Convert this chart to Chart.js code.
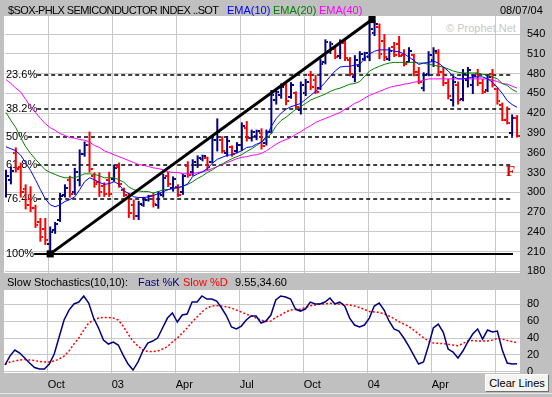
<!DOCTYPE html>
<html>
<head>
<meta charset="utf-8">
<script src="https://cdn.jsdelivr.net/npm/chart.js"></script>
<style>
  body { margin: 0; background: #c0c0c0; }
  #wrap { position: relative; width: 552px; height: 397px; background: #c0c0c0; overflow: hidden;
          font-family: "Liberation Sans", Arial, sans-serif; font-size: 11px; line-height: 16px; color: #000; }
  .abs { position: absolute; white-space: nowrap; }
  .plot { position: absolute; background: #fff; }
  canvas { position: absolute; left: 0; }
</style>
</head>
<body>
<div id="wrap">
  <div class="plot" style="left:4px;top:16px;width:516px;height:257px"></div>
  <div class="plot" style="left:4px;top:290px;width:516px;height:83px"></div>
  <div class="abs" style="left:446px;top:20px;color:#c8c8c8">© Prophet.Net</div>

  <canvas id="mainChart" width="552" height="290" style="top:0"></canvas>
  <canvas id="stochChart" width="552" height="123" style="top:274px"></canvas>

  <div class="abs" style="left:8px;top:2px;letter-spacing:-0.6px">$SOX-PHLX SEMICONDUCTOR INDEX ..SOT</div>
  <div class="abs" style="left:227px;top:2px;color:#0000ff">EMA(10)</div>
  <div class="abs" style="left:273px;top:2px;color:#008000">EMA(20)</div>
  <div class="abs" style="left:319px;top:2px;color:#ff00ff">EMA(40)</div>
  <div class="abs" style="left:500px;top:2px">08/07/04</div>

  <div class="abs" style="left:7px;top:274px">Slow Stochastics(10,10):</div>
  <div class="abs" style="left:138px;top:274px;color:#000080">Fast %K</div>
  <div class="abs" style="left:183px;top:274px;color:#ff0000">Slow %D</div>
  <div class="abs" style="left:235px;top:274px">9.55,34.60</div>

  <div class="abs" style="left:506px;top:164px;color:#e00000;font:bold 15px/15px 'Liberation Serif', 'Times New Roman', serif">F</div>

  <div class="abs" style="left:485px;top:374px;width:62px;height:16px;line-height:16px;text-align:center;background:#f4f4f0;border:1px solid;border-color:#ffffff #707070 #707070 #ffffff">Clear Lines</div>
  <div class="abs" style="left:0;top:393px;width:552px;height:1px;background:#e4e4e4"></div>
</div>

<script>
// weekly bars, Aug 2002 .. Aug 2004 (first bar is 9 weeks before the Oct 2002 low)
const firstWeek = -9;

const opens = [300, 318, 360, 338, 305, 290, 276, 255, 245,
  222, 242, 258, 296, 318, 300, 318, 358, 372, 325,
  315, 310, 318, 320, 338, 304, 292, 280, 264, 281,
  288, 295, 280, 296, 325, 306, 308, 300, 340, 330,
  342, 350, 352, 346, 380, 380, 360, 368, 362, 372,
  398, 382, 385, 390, 374, 392, 440, 448, 462, 444,
  450, 425, 450, 478, 470, 458, 498, 515, 518, 506,
  526, 500, 475, 492, 502, 505, 542, 550, 530, 502,
  520, 525, 508, 498, 508, 482, 458, 480, 500, 512,
  482, 465, 440, 462, 442, 470, 462, 480, 466, 455,
  480, 456, 432, 410, 390, 412];
const highs = [334, 339, 368, 345, 312, 309, 281, 261, 261,
  248, 255, 299, 312, 325, 337, 365, 377, 392, 330,
  330, 315, 331, 342, 345, 307, 299, 289, 287, 293,
  296, 299, 302, 328, 331, 324, 312, 328, 347, 350,
  356, 357, 354, 386, 412, 385, 385, 371, 376, 406,
  408, 395, 395, 397, 395, 455, 456, 465, 468, 467,
  453, 468, 472, 484, 478, 502, 532, 529, 520, 532,
  532, 505, 508, 514, 513, 562, 560, 556, 540, 520,
  528, 537, 517, 520, 510, 490, 482, 514, 520, 517,
  490, 472, 476, 468, 487, 490, 479, 487, 472, 479,
  487, 459, 436, 430, 418, 417];
const lows = [292, 312, 330, 292, 274, 270, 246, 225, 220,
  206.5, 237, 255, 292, 292, 296, 309, 354, 330, 307,
  293, 293, 293, 316, 307, 293, 261, 258, 258, 278,
  286, 277, 275, 292, 308, 301, 293, 296, 322, 325,
  337, 347, 333, 344, 362, 359, 354, 354, 359, 363,
  377, 377, 379, 365, 371, 389, 433, 442, 432, 442,
  426, 418, 446, 455, 449, 455, 494, 510, 502, 502,
  499, 476, 467, 482, 499, 499, 537, 502, 499, 499,
  505, 505, 491, 497, 476, 464, 453, 476, 490, 476,
  461, 441, 430, 433, 438, 459, 449, 461, 449, 452,
  459, 433, 408, 403, 385, 383];
const closes = [325, 333, 336, 300, 280, 276, 250, 232, 228,
  240, 252, 295, 306, 298, 330, 358, 372, 335, 312,
  300, 297, 298, 337, 312, 296, 268, 264, 282, 289,
  294, 282, 298, 322, 312, 320, 296, 325, 326, 346,
  352, 355, 338, 380, 392, 362, 378, 358, 372, 400,
  382, 392, 393, 370, 392, 448, 452, 460, 438, 462,
  430, 462, 468, 460, 452, 495, 528, 525, 505, 528,
  503, 480, 500, 510, 511, 548, 555, 510, 505, 515,
  508, 507, 495, 515, 482, 468, 478, 508, 515, 482,
  466, 446, 468, 440, 480, 485, 476, 466, 452, 475,
  462, 438, 410, 405, 412, 385];

const ema10 = [369, 366, 363, 356, 345, 333, 319, 304, 290,
  281, 278, 281, 286, 289, 293, 304, 316, 322, 319,
  315, 312, 313, 316, 312, 302, 298, 293, 292, 292,
  293, 295, 298, 301, 304, 306, 307, 309, 313, 324,
  328, 331, 336, 344, 350, 353, 356, 357, 360, 363,
  368, 369, 373, 376, 385, 400, 412, 420, 426, 430,
  432, 435, 441, 447, 453, 459, 467, 476, 484, 490,
  491, 491, 493, 494, 503, 510, 514, 516, 516, 516,
  514, 513, 510, 505, 500, 494, 496, 497, 499, 496,
  490, 484, 476, 472, 472, 473, 475, 475, 475, 472,
  467, 459, 450, 439, 433, 429];
const ema20 = [421, 409, 398, 383, 369, 359, 350, 342, 334,
  330, 327, 324, 322, 322, 322, 325, 328, 328, 327,
  325, 322, 322, 322, 319, 315, 308, 304, 302, 301,
  301, 299, 301, 304, 304, 306, 307, 309, 312, 316,
  321, 325, 330, 334, 339, 343, 347, 351, 354, 357,
  362, 366, 371, 376, 382, 389, 401, 409, 414, 420,
  426, 430, 435, 440, 443, 446, 449, 453, 456, 458,
  461, 464, 465, 468, 476, 484, 488, 491, 494, 496,
  497, 497, 497, 497, 497, 496, 496, 494, 493, 491,
  490, 487, 484, 482, 481, 481, 481, 481, 479, 478,
  475, 472, 465, 462, 456, 452];
const ema40 = [471, 465, 458, 452, 441, 430, 421, 412, 404,
  398, 394, 389, 386, 383, 382, 380, 379, 376, 371,
  368, 363, 360, 357, 354, 351, 348, 345, 342, 341,
  339, 337, 336, 334, 331, 330, 330, 328, 328, 328,
  330, 331, 333, 336, 339, 342, 345, 348, 351, 353,
  354, 356, 357, 359, 363, 368, 373, 377, 380, 383,
  388, 392, 397, 401, 406, 409, 412, 415, 418, 421,
  426, 430, 435, 438, 443, 447, 450, 453, 456, 459,
  461, 462, 464, 465, 467, 468, 470, 472, 472, 472,
  472, 472, 472, 472, 472, 472, 472, 472, 472, 472,
  470, 468, 465, 464, 461, 458];

const fastK = [8, 18.6, 25.8, 22.2, 16.3, 10.3, 5, 3.2, 3.2,
  9.1, 21, 41.2, 61.4, 73.2, 80.4, 82.7, 89.9, 81.5, 63.7,
  51.9, 37.6, 32.9, 35.3, 31.7, 19.8, 9.1, 2, 11.5, 24.6,
  34.1, 36.4, 40, 51.9, 63.7, 69.7, 59, 67.3, 68.5, 82.7,
  82.7, 89.9, 86.3, 86.3, 83.9, 75.6, 66.1, 53.1, 50.7, 54.2,
  61.4, 66.1, 66.1, 57.8, 60.2, 67.3, 85.1, 89.9, 88.7, 86.3,
  74.4, 72, 74.4, 82.7, 80.4, 80.4, 82.7, 87.5, 80.4, 82.7,
  78, 63.7, 55.4, 53.1, 55.4, 63.7, 78, 81.5, 73.2, 60.2,
  50.7, 48.3, 40, 30.5, 19.8, 9.1, 11.5, 30.5, 51.9, 56.6,
  47.1, 26.9, 23.4, 16.3, 24.6, 35.3, 44.7, 50.7, 38.8, 49.5,
  47.1, 48.3, 25.8, 10.3, 9.1, 9.55];
const slowD = [8.8, 11.5, 12.7, 13.9, 14.5, 13.9, 13.3, 12.1, 11.5,
  11.5, 12.7, 15.1, 18.6, 24.6, 32.9, 40, 49.5, 57.8, 61.4,
  63.7, 64.3, 64.3, 63.7, 61.4, 54.2, 44.7, 36.4, 30.5, 25.8,
  24, 24, 24.6, 26.9, 29.9, 35.3, 40, 45.9, 51.9, 59,
  64.9, 70.9, 75.6, 78, 78.3, 78, 77.2, 75.6, 73.2, 70.9,
  68.5, 66.1, 63.7, 61.4, 59.6, 60.2, 64.3, 67.3, 70.9, 73.2,
  73.8, 74.4, 76.2, 78.3, 79.2, 80.4, 80.4, 81.2, 81, 80,
  79.8, 79.2, 78, 76.2, 73.8, 71.5, 70.9, 70.5, 68.5, 66.1,
  63.1, 59.6, 56.6, 53.7, 49.5, 44.7, 40.6, 36.4, 34.1, 33.7,
  33.5, 32.5, 31.7, 30.9, 33.5, 36.4, 37, 36.4, 36.4, 36.4,
  37.6, 39.4, 38.8, 37, 35.8, 34.6];

// quarter gridlines (in weeks from the Oct 2002 low) and their labels
const quarterWeeks = [-0.33, 12.67, 25.67, 38.67, 51.67, 64.67, 77.67, 90.67];
const quarterLabels = ['Oct', '03', 'Apr', 'Jul', 'Oct', '04', 'Apr', 'Jul'];

// right axis ticks
const priceTicks = [180, 210, 240, 270, 300, 330, 360, 390, 420, 450, 480, 510, 540];
const stochTicks = [0, 20, 40, 60, 80];

// fibonacci retracement of the Oct 2002 - Jan 2004 move
const fibHigh = 561.3;
const fibLow = 206.5;
const fibRatios = [0.236, 0.382, 0.5, 0.618, 0.764, 1];
const fibLabels = ['23.6%', '38.2%', '50%', '61.8%', '76.4%', '100%'];

// trend line from the low to the high
const trendWeeks = [0, 65.5];
const trendValues = [206.5, 562];

const NAVY = '#000080';
const RED = '#ff0000';
const GRID = '#c8c8c8';

Chart.defaults.font.family = '"Liberation Sans", Arial, sans-serif';
Chart.defaults.font.size = 11;
Chart.defaults.color = '#000';

const weeks = closes.map((_, i) => firstWeek + i);
const isUp = i => closes[i] >= opens[i];
const pts = arr => weeks.map((w, i) => ({ x: w, y: arr[i] }));

// little open / close ticks used as point images
function tickImage(color, side) {
    const c = document.createElement('canvas');
    c.width = 6;
    c.height = 2;
    const g = c.getContext('2d');
    g.fillStyle = color;
    g.fillRect(side === 'left' ? 0 : 4, 0, 2, 2);
    return c;
}
const openNavy = tickImage(NAVY, 'left');
const openRed = tickImage(RED, 'left');
const closeNavy = tickImage(NAVY, 'right');
const closeRed = tickImage(RED, 'right');

function xAxis(showLabels) {
    return {
        type: 'linear',
        min: -9.2,
        max: 95.6,
        offset: false,
        afterBuildTicks: axis => {
            axis.ticks = quarterWeeks.map(v => ({ value: v }));
        },
        afterFit: axis => {
            axis.height = showLabels ? 24 : 0;
        },
        grid: { color: GRID, drawTicks: false, offset: false },
        border: { display: false },
        ticks: {
            display: showLabels,
            align: 'start',
            padding: 5,
            autoSkip: false,
            maxRotation: 0,
            callback: (v, i) => quarterLabels[i]
        }
    };
}

function yAxis(min, max, tickValues) {
    return {
        type: 'linear',
        position: 'right',
        min: min,
        max: max,
        afterBuildTicks: axis => {
            axis.ticks = tickValues.map(v => ({ value: v }));
        },
        afterFit: axis => { axis.width = 32; },
        grid: { color: GRID, drawTicks: false },
        border: { display: false },
        ticks: { autoSkip: false, padding: 7 }
    };
}

const fibPlugin = {
    id: 'fibLines',
    beforeDatasetsDraw(chart) {
        const { ctx, chartArea, scales } = chart;
        ctx.save();
        ctx.font = '11px "Liberation Sans", Arial, sans-serif';
        ctx.textBaseline = 'middle';
        ctx.fillStyle = '#000';
        ctx.strokeStyle = '#000';
        fibRatios.forEach((r, i) => {
            const py = Math.round(scales.y.getPixelForValue(fibHigh - r * (fibHigh - fibLow)));
            const x0 = chartArea.left + 1;
            ctx.fillText(fibLabels[i], x0, py);
            const lineStart = x0 + ctx.measureText(fibLabels[i]).width;
            ctx.beginPath();
            if (r === 1) {
                ctx.setLineDash([]);
                ctx.lineWidth = 2;
            } else {
                ctx.setLineDash([4, 3]);
                ctx.lineWidth = 1.5;
            }
            ctx.moveTo(lineStart, py);
            ctx.lineTo(chartArea.right - 7, py);
            ctx.stroke();
        });
        ctx.restore();
    }
};

new Chart(document.getElementById('mainChart'), {
    type: 'scatter',
    data: {
        datasets: [
            {
                type: 'line',
                data: trendWeeks.map((w, i) => ({ x: w, y: trendValues[i] })),
                borderColor: '#000',
                borderWidth: 3,
                pointStyle: 'rect',
                pointRadius: 5,
                pointBackgroundColor: '#000',
                pointBorderWidth: 0,
                order: 0
            },
            { type: 'line', data: pts(ema10), borderColor: '#0000ff', borderWidth: 1, pointRadius: 0, tension: 0, order: 1 },
            { type: 'line', data: pts(ema20), borderColor: '#008000', borderWidth: 1, pointRadius: 0, tension: 0, order: 2 },
            { type: 'line', data: pts(ema40), borderColor: '#ff00ff', borderWidth: 1, pointRadius: 0, tension: 0, order: 3 },
            {
                type: 'scatter',
                data: pts(opens),
                pointStyle: c => isUp(c.dataIndex) ? openNavy : openRed,
                pointRadius: 3,
                order: 4
            },
            {
                type: 'scatter',
                data: pts(closes),
                pointStyle: c => isUp(c.dataIndex) ? closeNavy : closeRed,
                pointRadius: 3,
                order: 5
            },
            {
                type: 'bar',
                data: weeks.map((w, i) => ({ x: w, y: [lows[i], highs[i]] })),
                backgroundColor: c => isUp(c.dataIndex) ? NAVY : RED,
                borderWidth: 0,
                inflateAmount: 0,
                barThickness: 2,
                order: 6
            }
        ]
    },
    options: {
        responsive: false,
        animation: false,
        events: [],
        layout: { padding: { left: 4, top: 16, right: 0, bottom: 17 } },
        plugins: { legend: { display: false }, tooltip: { enabled: false } },
        scales: {
            x: xAxis(false),
            y: yAxis(177.5, 567.4, priceTicks)
        }
    },
    plugins: [fibPlugin]
});

new Chart(document.getElementById('stochChart'), {
    type: 'scatter',
    data: {
        datasets: [
            { type: 'line', data: pts(fastK), borderColor: NAVY, borderWidth: 1.5, pointRadius: 0, tension: 0, order: 0 },
            { type: 'line', data: pts(slowD), borderColor: RED, borderWidth: 1.5, borderDash: [2, 2], pointRadius: 0, tension: 0, order: 1 }
        ]
    },
    options: {
        responsive: false,
        animation: false,
        events: [],
        layout: { padding: { left: 4, top: 16, right: 0, bottom: 0 } },
        plugins: { legend: { display: false }, tooltip: { enabled: false } },
        scales: {
            x: xAxis(true),
            y: yAxis(-1.5, 97, stochTicks)
        }
    }
});
</script>
</body>
</html>
